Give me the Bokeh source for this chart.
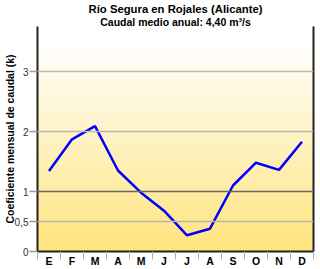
import numpy as np
from bokeh.plotting import figure
from bokeh.models import (FixedTicker, LinearAxis, Range1d, Span, Title,
                          CustomJSTickFormatter)
from bokeh.embed import file_html
from bokeh.resources import INLINE

# ---- data ----
months = ["E", "F", "M", "A", "M", "J", "J", "A", "S", "O", "N", "D"]
month_pos = list(range(1, 13))
k_values = [1.34, 1.87, 2.09, 1.35, 0.98, 0.68, 0.27, 0.38, 1.10, 1.48, 1.36, 1.83]
y_ticks = [0, 0.5, 1, 2, 3]
grid_light = [0.5, 2, 3]
grid_dark = [1]
title_text = "Río Segura en Rojales (Alicante)"
subtitle_text = "Caudal medio anual: 4,40 m³/s"
ylabel_text = "Coeficiente mensual de caudal (k)"

FONT = "Liberation Sans"
Y_MAX = 3.75

p = figure(width=320, height=269, x_range=Range1d(0.5, 12.5), y_range=Range1d(0, Y_MAX),
           output_backend="svg", toolbar_location=None,
           x_axis_location=None, y_axis_location=None, title=None,
           min_border_left=0, min_border_right=7, min_border_top=0, min_border_bottom=0)
p.outline_line_color = None
p.background_fill_color = "white"
p.border_fill_color = "white"

# ---- gradient background ----
N = 200
img = np.zeros((N, 2), dtype=np.uint32)
view = img.view(dtype=np.uint8).reshape((N, 2, 4))
bottom = np.array([255, 228, 125], dtype=float)
top = np.array([255, 255, 255], dtype=float)
for r in range(N):
    t = min(1.0, (r / (N - 1)) / 0.92)
    c = bottom + (top - bottom) * t
    view[r, :, 0] = int(c[0]); view[r, :, 1] = int(c[1]); view[r, :, 2] = int(c[2]); view[r, :, 3] = 255
p.image_rgba(image=[img], x=0.5, y=0, dw=12, dh=Y_MAX)

# ---- gridlines ----
for v in grid_light:
    p.add_layout(Span(location=v, dimension="width", line_color="#b8b8b0", line_width=1.5))
for v in grid_dark:
    p.add_layout(Span(location=v, dimension="width", line_color="#666666", line_width=1.5))

# ---- data line ----
p.line(month_pos, k_values, line_color="#0000FF", line_width=2.5)

# ---- left axis ----
yaxis = LinearAxis(ticker=FixedTicker(ticks=y_ticks),
                   formatter=CustomJSTickFormatter(code="return tick.toString().replace('.', ',')"))
yaxis.axis_line_color = "#222222"
yaxis.axis_line_width = 2
yaxis.major_tick_out = 8
yaxis.major_tick_in = 0
yaxis.major_tick_line_color = "#9a9a9a"
yaxis.major_tick_line_width = 1.5
yaxis.minor_tick_line_color = None
yaxis.minor_tick_out = 0
yaxis.minor_tick_in = 0
yaxis.major_label_text_font = FONT
yaxis.major_label_text_font_size = "10px"
yaxis.major_label_text_color = "#333333"
yaxis.major_label_standoff = 1
yaxis.axis_label = ylabel_text
yaxis.axis_label_text_font = FONT
yaxis.axis_label_text_font_style = "bold"
yaxis.axis_label_text_font_size = "10.5px"
yaxis.axis_label_text_color = "black"
yaxis.axis_label_standoff = -4
p.add_layout(yaxis, "left")

# ---- right axis (frame line only) ----
raxis = LinearAxis(ticker=FixedTicker(ticks=[]))
raxis.axis_line_color = "#222222"
raxis.axis_line_width = 2
raxis.major_tick_line_color = None
raxis.minor_tick_line_color = None
raxis.major_tick_out = 0
raxis.minor_tick_out = 0
raxis.major_label_standoff = 0
raxis.major_label_text_font_size = "0px"
p.add_layout(raxis, "right")

# ---- bottom axes: separators + month labels ----
sep_ticks = [0.5 + i for i in range(13)]
xsep = LinearAxis(ticker=FixedTicker(ticks=sep_ticks),
                  formatter=CustomJSTickFormatter(code="return ''"))
xsep.axis_line_color = "#222222"
xsep.axis_line_width = 2
xsep.major_tick_out = 8
xsep.major_tick_in = 0
xsep.major_tick_line_color = "#b0b0b0"
xsep.major_tick_line_width = 1
xsep.minor_tick_line_color = None
xsep.minor_tick_out = 0
xsep.minor_tick_in = 0
xsep.major_label_text_font_size = "0px"
xsep.major_label_standoff = 0
p.add_layout(xsep, "below")

xlab = LinearAxis(ticker=FixedTicker(ticks=month_pos),
                  formatter=CustomJSTickFormatter(args=dict(labels=months),
                                                  code="return labels[Math.round(tick) - 1] || ''"))
xlab.axis_line_color = None
xlab.major_tick_line_color = None
xlab.minor_tick_line_color = None
xlab.major_tick_out = 0
xlab.major_tick_in = 0
xlab.minor_tick_out = 0
xlab.minor_tick_in = 0
xlab.major_label_standoff = -5
xlab.major_label_text_font = FONT
xlab.major_label_text_font_style = "bold"
xlab.major_label_text_font_size = "10.5px"
xlab.major_label_text_color = "black"
p.add_layout(xlab, "below")

# ---- titles ----
sub = Title(text=subtitle_text, align="center", text_font=FONT, text_font_style="bold",
            text_font_size="10.5px", text_color="black", standoff=-2, offset=0)
main = Title(text=title_text, align="center", text_font=FONT, text_font_style="bold",
             text_font_size="11.3px", text_color="black", standoff=0, offset=0)
p.add_layout(sub, "above")
p.add_layout(main, "above")

open("out.html", "w").write(file_html(p, INLINE))
